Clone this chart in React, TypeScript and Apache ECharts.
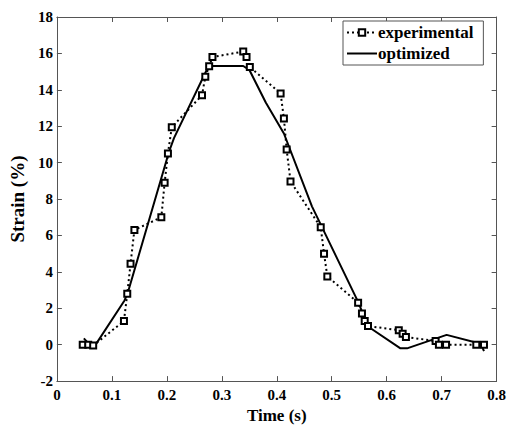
import React, { useEffect, useRef } from "react";
import * as echarts from "echarts";

const expTime = [0.047, 0.057, 0.066, 0.122, 0.128, 0.134, 0.141, 0.19, 0.196, 0.202, 0.209, 0.264, 0.27, 0.277, 0.283, 0.339, 0.345, 0.351, 0.407, 0.413, 0.418, 0.425, 0.48, 0.486, 0.492, 0.548, 0.555, 0.56, 0.566, 0.622, 0.629, 0.635, 0.689, 0.695, 0.708, 0.763, 0.777];
const expStrain = [0, 0, -0.05, 1.3, 2.8, 4.45, 6.3, 7.0, 8.9, 10.5, 11.95, 13.7, 14.72, 15.3, 15.8, 16.1, 15.8, 15.25, 13.8, 12.43, 10.72, 8.97, 6.45, 5.0, 3.75, 2.3, 1.72, 1.3, 1.02, 0.8, 0.6, 0.42, 0.2, 0, 0, 0, 0];

const optTime = [0.049, 0.066, 0.123, 0.129, 0.204, 0.213, 0.276, 0.339, 0.35, 0.38, 0.413, 0.464, 0.548, 0.566, 0.625, 0.637, 0.709, 0.771, 0.777];
const optStrain = [0.35, -0.2, 2.43, 2.85, 10.6, 11.35, 15.31, 15.31, 15.1, 13.3, 11.6, 7.6, 2.35, 1.0, -0.2, -0.2, 0.54, 0.05, -0.35];

const xTicks = { min: 0, max: 0.8, interval: 0.1 };
const yTicks = { min: -2, max: 18, interval: 2 };

const FONT = "'Liberation Serif', 'Times New Roman', serif";

export default function App() {
  const ref = useRef<HTMLDivElement>(null);
  useEffect(() => {
    document.body.style.margin = "0";
    const chart = echarts.init(ref.current!, undefined, { renderer: "svg" });
    const axisLine = { show: true, onZero: false, lineStyle: { color: "#555", width: 1 } };
    const axisTick = { show: true, inside: true, length: 5, lineStyle: { color: "#555" } };
    const labelStyle = { color: "#000", fontFamily: FONT, fontWeight: "bold" as const, fontSize: 15 };
    chart.setOption({
      animation: false,
      backgroundColor: "#fff",
      grid: { left: 53, right: 10, top: 17, bottom: 42, containLabel: false },
      legend: {
        data: [
          { name: "experimental" },
          { name: "optimized", itemStyle: { opacity: 0 } },
        ],
        orient: "vertical",
        left: 343,
        top: 21,
        itemWidth: 30,
        itemHeight: 8,
        itemGap: 4,
        padding: [3, 10, 3, 3],
        borderColor: "#555",
        borderWidth: 1,
        backgroundColor: "#fff",
        textStyle: { color: "#000", fontFamily: FONT, fontWeight: "bold", fontSize: 17, padding: [0, 0, 0, -4] },
      },
      xAxis: [
        {
          type: "value",
          ...xTicks,
          position: "bottom",
          axisLine,
          axisTick,
          splitLine: { show: false },
          axisLabel: { ...labelStyle, margin: 6, formatter: (v: number) => (v === 0 ? "0" : v.toFixed(1)) },
          name: "Time (s)",
          nameLocation: "middle",
          nameGap: 25,
          nameTextStyle: { color: "#000", fontFamily: FONT, fontWeight: "bold", fontSize: 17 },
        },
        {
          type: "value",
          ...xTicks,
          position: "top",
          axisLine,
          axisTick,
          splitLine: { show: false },
          axisLabel: { show: false },
        },
      ],
      yAxis: [
        {
          type: "value",
          ...yTicks,
          position: "left",
          axisLine,
          axisTick,
          splitLine: { show: false },
          axisLabel: { ...labelStyle, margin: 4 },
          name: "Strain (%)",
          nameLocation: "middle",
          nameGap: 24,
          nameTextStyle: { color: "#000", fontFamily: FONT, fontWeight: "bold", fontSize: 19 },
        },
        {
          type: "value",
          ...yTicks,
          position: "right",
          axisLine,
          axisTick,
          splitLine: { show: false },
          axisLabel: { show: false },
        },
      ],
      series: [
        {
          name: "experimental",
          type: "line",
          xAxisIndex: 0,
          yAxisIndex: 0,
          data: expTime.map((t, i) => [t, expStrain[i]]),
          symbol: "rect",
          symbolSize: 6,
          showAllSymbol: true,
          lineStyle: { color: "#000", width: 2, type: [2, 3] },
          itemStyle: { color: "#fff", borderColor: "#000", borderWidth: 2 },
          z: 3,
        },
        {
          name: "optimized",
          type: "line",
          xAxisIndex: 0,
          yAxisIndex: 0,
          data: optTime.map((t, i) => [t, optStrain[i]]),
          symbol: "none",
          lineStyle: { color: "#000", width: 2 },
          itemStyle: { color: "#000" },
          z: 2,
        },
      ],
    });
    return () => chart.dispose();
  }, []);
  return <div ref={ref} style={{ width: 509, height: 429 }} />;
}
